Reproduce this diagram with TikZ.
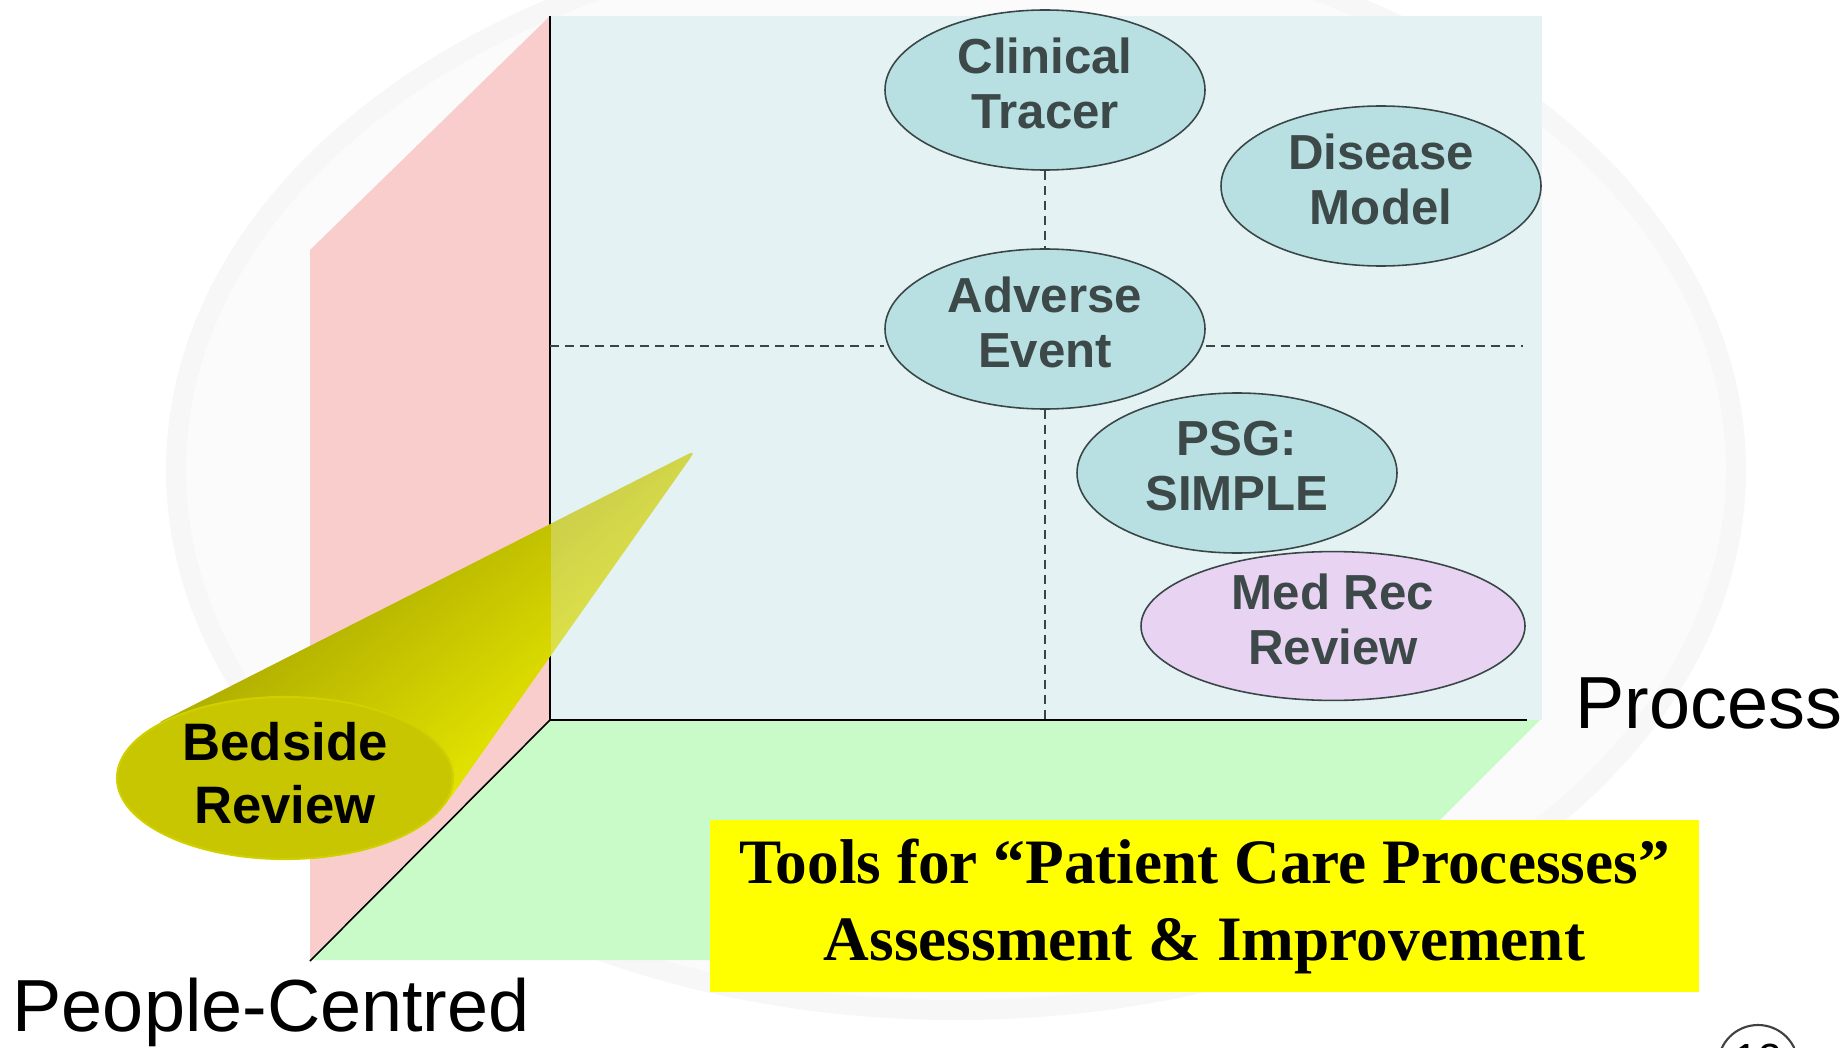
\documentclass[tikz,border=0pt]{standalone}
\usepackage{fontspec}
\setmainfont{Liberation Sans}
\newfontfamily\timesfont{Liberation Serif}
\usepackage{tikz}
\usetikzlibrary{shapes.geometric}

\definecolor{wallblue}{HTML}{E4F2F4}
\definecolor{wallpink}{HTML}{FACDCD}
\definecolor{floorgreen}{HTML}{C9FBC9}
\definecolor{toolteal}{HTML}{B8E0E3}
\definecolor{toollilac}{HTML}{E8D3F2}
\definecolor{edgegray}{HTML}{3A4646}
\definecolor{textgray}{HTML}{3D4949}
\definecolor{conedark}{HTML}{9E9C00}
\definecolor{conemid}{HTML}{B0AE00}
\definecolor{conelight}{HTML}{E4E400}
\definecolor{bedface}{HTML}{C8C600}
\definecolor{titleyellow}{HTML}{FFFF00}

\begin{document}
\begin{tikzpicture}[x=0.1mm,y=-0.1mm,
    tool/.style={ellipse, draw=edgegray, line width=0.45pt, fill=toolteal,
      minimum width=32mm, minimum height=16mm, inner sep=0pt, align=center,
      text depth=4pt, text=textgray, font=\fontsize{14}{15.8}\selectfont\bfseries},
    gridline/.style={edgegray, line width=0.45pt, dash pattern=on 0.9mm off 0.6mm},
    axisline/.style={black, line width=0.45pt},
    axislabel/.style={anchor=base west, inner sep=0pt, font=\fontsize{21}{24}\selectfont}]
  \useasboundingbox (0,0) rectangle (1846,1047);

  % faint logo in the background
  \filldraw[fill=black!1.5, draw=black!3, line width=2mm] (956,470) ellipse (780 and 540);

  % the three walls
  \fill[wallpink] (310,250) -- (550,16) -- (550,720) -- (310,960) -- cycle;
  \fill[wallblue] (550,16) rectangle (1542,720);
  \fill[floorgreen] (550,720) -- (1540,720) -- (1300,960) -- (310,960) -- cycle;

  \coordinate (origin) at (550,720);
  \coordinate (ztop) at (550,16);
  \coordinate (xend) at (1527,720);
  \coordinate (zend) at (310,961);
  \coordinate (midL) at (550,346);
  \coordinate (midR) at (1523,346);

  \draw[axisline] (ztop) -- (origin) -- (xend);
  \draw[axisline] (origin) -- (zend);

  % bedside cone, shaded across its axis; far end seen through the back wall
  \begin{scope}[transform canvas={rotate around={38.6:(285,778)}}]
    \begin{scope}[rotate around={-38.6:(285,778)}]
      \shade[top color=conemid, middle color=conedark, bottom color=conelight]
        (160,722) -- (679.9,458.2) .. controls (696,450) .. (686,464.2)
        -- (446,804) -- (285,778) -- cycle;
    \end{scope}
  \end{scope}
  \fill[wallblue, opacity=0.3] (551,430) rectangle (720,700);
  \node[ellipse, fill=bedface, draw=bedface!85!yellow, line width=0.6pt,
    minimum width=33.6mm, minimum height=16.2mm, inner sep=0pt, align=center,
    text depth=3pt, font=\fontsize{15}{17.9}\selectfont\bfseries] (bedside) at (285,778) {Bedside\\Review};

  % tools
  \node[tool] (clinical) at (1045,90) {Clinical\\Tracer};
  \node[tool] (disease) at (1381,186) {Disease\\Model};
  \node[tool] (adverse) at (1045,329) {Adverse\\Event};
  \node[tool] (psg) at (1237,473) {PSG:\\SIMPLE};
  \node[tool, fill=toollilac, minimum width=38.4mm, minimum height=14.4mm]
    (medrec) at (1333,626) {Med Rec\\Review};

  \draw[gridline] (clinical) -- (adverse);
  \draw[gridline] (adverse) -- (adverse |- origin);
  \draw[gridline] (midL) -- (midL -| adverse.west);
  \draw[gridline] (adverse.east |- midR) -- (midR);

  % axis names
  \node[axislabel] (process) at (1575,728) {Process};
  \node[axislabel] (people) at (12,1031) {People-Centred};

  % title box
  \node[fill=titleyellow, minimum width=98.9mm, minimum height=17.2mm, inner sep=0pt,
    align=center, font=\timesfont\bfseries\fontsize{18}{21.9}\selectfont]
    (title) at (1204.5,906) {Tools for “Patient Care Processes”\\Assessment \& Improvement};

  % page number
  \node[circle, draw=black!75, line width=0.6pt, minimum size=8mm, inner sep=0pt] (pagenum) at (1758,1065) {};
  \node[font=\fontsize{12}{14}\selectfont, anchor=base, inner sep=0pt] (pagetext) at (1758,1073) {12};
\end{tikzpicture}
\end{document}
